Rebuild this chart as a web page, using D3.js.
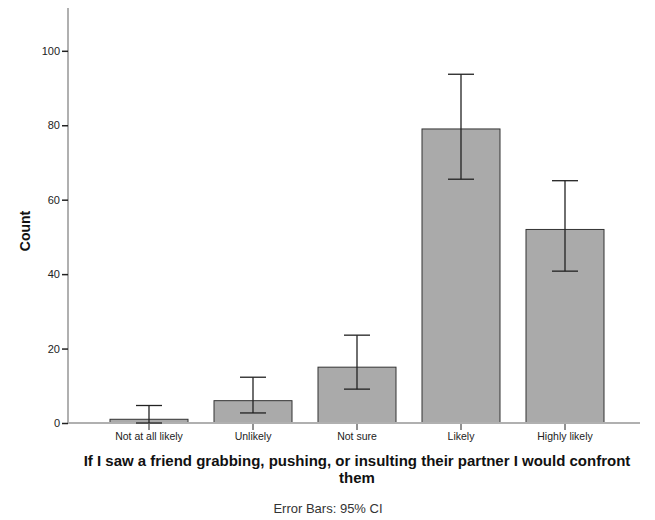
<!DOCTYPE html>
<html><head><meta charset="utf-8">
<script src="https://cdn.jsdelivr.net/npm/d3@7"></script>
<style>body{margin:0;background:#fff}text{font-family:"Liberation Sans",Arial,sans-serif}</style>
</head><body><svg id="c" width="655" height="520"></svg>
<script>
const categories = ["Not at all likely","Unlikely","Not sure","Likely","Highly likely"];
const counts = [1, 6, 15, 79, 52];
const ciLow = [0, 2.7, 9.1, 65.5, 40.8];
const ciHigh = [4.7, 12.3, 23.6, 93.7, 65.1];
const yTicks = [0,20,40,60,80,100];

const svg = d3.select("#c");
const y = d3.scaleLinear().domain([0, 111.5]).range([423, 8]);
const x = d3.scaleBand().domain(categories).range([97, 617]).paddingInner(0.25).paddingOuter(0.125);

// bars
svg.selectAll("rect.bar").data(categories).enter().append("rect")
  .attr("x", d => x(d)).attr("width", x.bandwidth())
  .attr("y", (d,i) => y(counts[i])).attr("height", (d,i) => y(0) - y(counts[i]))
  .attr("fill", "#aaaaaa").attr("stroke", "#333").attr("stroke-width", 1);

// axes lines
svg.append("line").attr("x1", 68).attr("x2", 68).attr("y1", 8).attr("y2", 424)
  .attr("stroke", "#b0b0b0").attr("stroke-width", 2);
svg.append("line").attr("x1", 67).attr("x2", 640).attr("y1", y(0)).attr("y2", y(0))
  .attr("stroke", "#b0b0b0").attr("stroke-width", 2);

// y axis
const ya = d3.axisLeft(y).tickValues(yTicks).tickSize(6).tickPadding(2);
const gy = svg.append("g").attr("transform", "translate(68,0)").call(ya);
gy.select(".domain").remove();
gy.selectAll(".tick line").attr("stroke", "#222").attr("stroke-width", 1.5);
gy.selectAll(".tick text").attr("font-size", 11).attr("fill", "#222").attr("font-family", "Liberation Sans, Arial, sans-serif");

// x axis
const xa = d3.axisBottom(x).tickSize(6).tickPadding(3);
const gx = svg.append("g").attr("transform", `translate(0,${y(0)+1})`).call(xa);
gx.select(".domain").remove();
gx.selectAll(".tick line").attr("stroke", "#222").attr("stroke-width", 1);
gx.selectAll(".tick text").attr("font-size", 10.5).attr("fill", "#222").attr("font-family", "Liberation Sans, Arial, sans-serif");

// error bars
const cap = 13;
const eb = svg.selectAll("g.eb").data(categories).enter().append("g")
  .attr("stroke", "#222").attr("stroke-width", 1.3);
eb.append("line").attr("x1", d => x(d)+x.bandwidth()/2).attr("x2", d => x(d)+x.bandwidth()/2)
  .attr("y1", (d,i) => y(ciLow[i])).attr("y2", (d,i) => y(ciHigh[i]));
eb.append("line").attr("x1", d => x(d)+x.bandwidth()/2-cap).attr("x2", d => x(d)+x.bandwidth()/2+cap)
  .attr("y1", (d,i) => y(ciHigh[i])).attr("y2", (d,i) => y(ciHigh[i]));
eb.append("line").attr("x1", d => x(d)+x.bandwidth()/2-cap).attr("x2", d => x(d)+x.bandwidth()/2+cap)
  .attr("y1", (d,i) => y(ciLow[i])).attr("y2", (d,i) => y(ciLow[i]));

// labels
svg.append("text").attr("transform", "translate(30,231) rotate(-90)").attr("text-anchor", "middle")
  .attr("font-size", 14).attr("font-weight", "bold").attr("fill", "#111").text("Count");
svg.append("text").attr("x", 357).attr("y", 466).attr("text-anchor", "middle")
  .attr("font-size", 15).attr("font-weight", "bold").attr("fill", "#111")
  .text("If I saw a friend grabbing, pushing, or insulting their partner I would confront");
svg.append("text").attr("x", 357).attr("y", 483).attr("text-anchor", "middle")
  .attr("font-size", 15).attr("font-weight", "bold").attr("fill", "#111").text("them");
svg.append("text").attr("x", 328).attr("y", 513).attr("text-anchor", "middle")
  .attr("font-size", 13).attr("fill", "#333").text("Error Bars: 95% CI");
</script></body></html>
